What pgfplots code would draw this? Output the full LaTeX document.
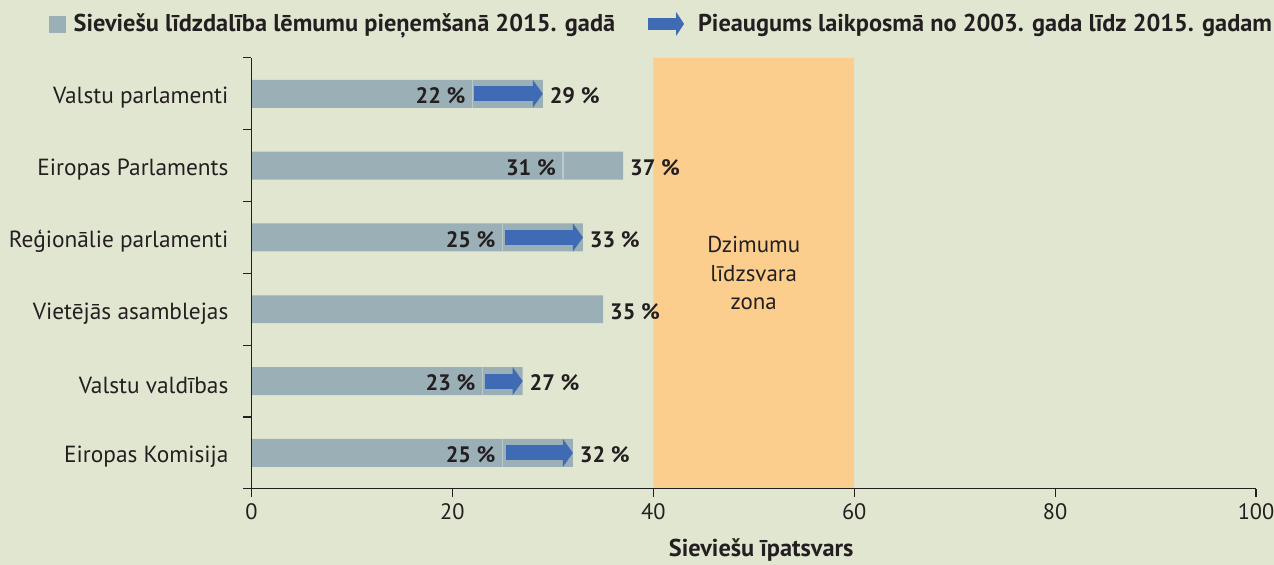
\documentclass[border=0pt]{standalone}
\usepackage{pgfplots}
\pgfplotsset{compat=1.18}
\usetikzlibrary{arrows.meta}
\usepackage{fontspec}
\setmainfont{PT Sans}
\definecolor{bgc}{HTML}{E1E6D1}
\definecolor{barc}{HTML}{9BB0B6}
\definecolor{arrc}{HTML}{3F6BB4}
\definecolor{orc}{HTML}{FBCE8E}
\definecolor{linec}{HTML}{B8C8CC}
\definecolor{txt}{HTML}{231F20}
\begin{document}
\begin{tikzpicture}
\fill[bgc] (-126pt,-38pt) rectangle (512.5pt,245pt);
\begin{axis}[
  at={(0,0)}, anchor=south west,
  scale only axis, width=503.5pt, height=216pt,
  xmin=0, xmax=100, ymin=-0.5, ymax=5.5,
  axis x line*=bottom, axis y line*=left,
  axis on top,
  axis line style={txt, line width=0.6pt},
  tick style={txt, line width=0.6pt},
  tick align=outside,
  major tick length=4pt,
  xtick={0,20,...,100},
  ytick={-0.5,0.5,1.5,2.5,3.5,4.5,5.5},
  yticklabels={},
  extra y ticks={0,1,2,3,4,5},
  extra y tick labels={Eiropas Komisija, Valstu valdības, Vietējās asamblejas, Reģionālie parlamenti, Eiropas Parlaments, Valstu parlamenti},
  extra y tick style={major tick length=0pt, tick label style={xshift=-8pt, yshift=-2pt, font=\fontsize{11.7}{13}\selectfont}},
  tick label style={font=\fontsize{11.2}{13}\selectfont, text=txt},
  /pgf/number format/assume math mode=true,
  xlabel={Sieviešu īpatsvars},
  xlabel style={at={(axis description cs:0.5074,-0.141)}, anchor=center, font=\fontsize{12.2}{14}\selectfont\bfseries, text=txt},
  legend columns=2,
  legend cell align=left,
  legend style={at={(axis description cs:-0.2016,1.0787)}, anchor=west, draw=none, fill=none, inner sep=0pt, outer sep=0pt,
    font=\fontsize{12.2}{14}\selectfont\bfseries, text=txt,
    nodes={inner sep=0pt},
    /tikz/every odd column/.style={column sep=4pt},
    /tikz/every even column/.style={column sep=13.5pt},
    /tikz/column 3/.style={column sep=2pt}},
]
% gender balance zone
\addplot[fill=orc, draw=none, forget plot] coordinates {(40,-0.5) (40,5.5) (60,5.5) (60,-0.5) (40,-0.5)};
\node[align=center, font=\fontsize{11.5}{14.25}\selectfont, text=txt] at (axis cs:50,2.5) {Dzimumu\\līdzsvara\\zona};
% bars 2015
\addplot[xbar, bar width=14pt, fill=barc, draw=none, forget plot] coordinates {(29,5) (37,4) (33,3) (35,2) (27,1) (32,0)};
% thin lines at 2003 values
\addplot[forget plot, draw=linec, line width=0.7pt, mark=none, quiver={u=0, v=\thisrow{v}}] table {
x y v
22 4.806 0.388
31 3.806 0.388
25 2.806 0.388
23 0.806 0.388
25 -0.194 0.388
};
% growth arrows
\addplot[forget plot, draw=arrc, line width=7.5pt, mark=none, -{Triangle[length=5pt, width=14pt, line width=0pt]}, quiver={u=\thisrow{u}, v=0}] table {
x y u
22.2 5 6.8
25.2 3 7.8
23.3 1 3.7
25.3 0 6.7
};
% labels: 2015 values
\addplot[forget plot, draw=none, mark=none, nodes near coords, point meta=explicit symbolic,
  nodes near coords style={anchor=west, yshift=-1pt, font=\fontsize{11.2}{13}\selectfont\bfseries, text=txt}]
  coordinates {(29,5) [29 \%] (37,4) [37 \%] (33,3) [33 \%] (35,2) [35 \%] (27,1) [27 \%] (32,0) [32 \%]};
% labels: 2003 values
\addplot[forget plot, draw=none, mark=none, nodes near coords, point meta=explicit symbolic,
  nodes near coords style={anchor=east, yshift=-1pt, font=\fontsize{11.2}{13}\selectfont\bfseries, text=txt}]
  coordinates {(22,5) [22 \%] (31,4) [31 \%] (25,3) [25 \%] (23,1) [23 \%] (25,0) [25 \%]};
% legend
\addlegendimage{legend image code/.code={\fill[barc] (0pt,-4pt) rectangle (8pt,4pt);}}
\addlegendentry{Sieviešu līdzdalība lēmumu pieņemšanā 2015. gadā}
\addlegendimage{legend image code/.code={\draw[arrc, line width=6pt, -{Triangle[length=4pt, width=12pt, line width=0pt]}] (0pt,0pt) -- (18pt,0pt);}}
\addlegendentry{Pieaugums laikposmā no 2003. gada līdz 2015. gadam}
\end{axis}
\pgfresetboundingbox
\path[use as bounding box] (-126pt,-38pt) rectangle (512.5pt,245pt);
\end{tikzpicture}
\end{document}
